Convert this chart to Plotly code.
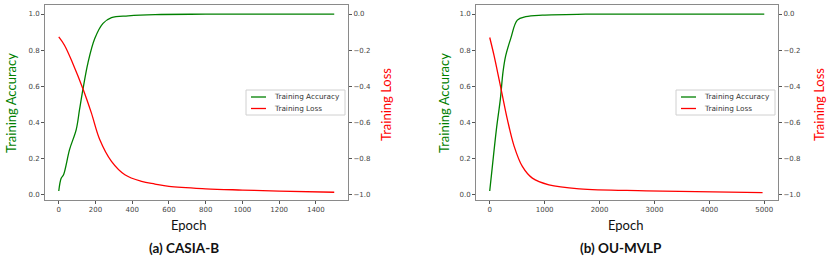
import plotly.graph_objects as go

# ---------------- data ----------------
casia_acc_epoch = [0, 13, 26, 59, 95, 113, 132, 159, 196, 241, 287, 378, 524, 800, 1100, 1500]
casia_acc = [0.02, 0.09, 0.11, 0.25, 0.36, 0.47, 0.585, 0.73, 0.864, 0.948, 0.98, 0.99, 0.997, 0.999, 1.0, 1.0]
casia_loss_epoch = [0, 31, 77, 132, 177, 223, 287, 360, 451, 524, 600, 800, 1000, 1200, 1500]
casia_loss = [-0.127, -0.173, -0.275, -0.415, -0.546, -0.695, -0.816, -0.89, -0.927, -0.942,
              -0.955, -0.968, -0.975, -0.981, -0.987]

ou_acc_epoch = [0, 48, 121, 194, 242, 291, 382, 503, 655, 958, 1745, 3000, 5000]
ou_acc = [0.02, 0.156, 0.36, 0.53, 0.68, 0.77, 0.864, 0.966, 0.985, 0.994, 0.999, 1.0, 1.0]
ou_loss_epoch = [0, 78, 169, 230, 321, 442, 594, 776, 1078, 1636, 2849, 4969]
ou_loss = [-0.13, -0.229, -0.36, -0.45, -0.583, -0.73, -0.844, -0.909, -0.946, -0.968, -0.979, -0.989]

acc_ticks = [0.0, 0.2, 0.4, 0.6, 0.8, 1.0]
loss_ticks = [-1.0, -0.8, -0.6, -0.4, -0.2, 0.0]
casia_xticks = [0, 200, 400, 600, 800, 1000, 1200, 1400]
ou_xticks = [0, 1000, 2000, 3000, 4000, 5000]
captions = ["(a) CASIA-B", "(b) OU-MVLP"]
series_names = ["Training Accuracy", "Training Loss"]

GREEN = "#008000"
RED = "#ff0000"
W, H = 830, 259

fig = go.Figure()
fig.add_trace(go.Scatter(x=casia_acc_epoch, y=casia_acc, mode="lines", name=series_names[0],
                         line=dict(color=GREEN, width=1.3, shape="spline"), xaxis="x", yaxis="y"))
fig.add_trace(go.Scatter(x=casia_loss_epoch, y=casia_loss, mode="lines", name=series_names[1],
                         line=dict(color=RED, width=1.3, shape="spline"), xaxis="x", yaxis="y2"))
fig.add_trace(go.Scatter(x=ou_acc_epoch, y=ou_acc, mode="lines", name=series_names[0],
                         line=dict(color=GREEN, width=1.3, shape="spline"), xaxis="x2", yaxis="y3"))
fig.add_trace(go.Scatter(x=ou_loss_epoch, y=ou_loss, mode="lines", name=series_names[1],
                         line=dict(color=RED, width=1.3, shape="spline"), xaxis="x2", yaxis="y4"))

ydom = [1 - 200 / H, 1 - 5 / H]
tickfont = dict(family="DejaVu Sans", size=7, color="#444")
axcommon = dict(showgrid=False, zeroline=False, showline=True, linecolor="#8a8a8a", linewidth=1,
                ticks="outside", ticklen=3, tickcolor="#555", tickfont=tickfont)

fig.update_layout(
    width=W, height=H, margin=dict(l=0, r=0, t=0, b=0),
    paper_bgcolor="white", plot_bgcolor="white", showlegend=False,
    xaxis=dict(domain=[45 / W, 348 / W], range=[-75, 1575], tickvals=casia_xticks, anchor="y",
               mirror=True, **axcommon),
    yaxis=dict(domain=ydom, range=[-0.03, 1.05], tickvals=acc_ticks, tickformat=".1f", anchor="x", **axcommon),
    yaxis2=dict(domain=ydom, range=[-1.03, 0.05], tickvals=loss_ticks, tickformat=".1f", anchor="x",
                overlaying="y", side="right", **axcommon),
    xaxis2=dict(domain=[476 / W, 778 / W], range=[-250, 5250], tickvals=ou_xticks, anchor="y3",
                mirror=True, **axcommon),
    yaxis3=dict(domain=ydom, range=[-0.03, 1.05], tickvals=acc_ticks, tickformat=".1f", anchor="x2", **axcommon),
    yaxis4=dict(domain=ydom, range=[-1.03, 0.05], tickvals=loss_ticks, tickformat=".1f", anchor="x2",
                overlaying="y3", side="right", **axcommon),
)

title_font = "Lato"
anns = []
shapes = []
# legend box positions (left, top) in pixels for each panel
legend_boxes = [(246, 90), (676, 90)]
for (cx, acx, lcx, cap), (lx, ly) in zip([(188, 11, 386, captions[0]), (625, 444, 819, captions[1])],
                                          legend_boxes):
    anns.append(dict(text="Epoch", x=cx / W, y=1 - 225 / H, xref="paper", yref="paper", showarrow=False,
                     xanchor="center", yanchor="middle", font=dict(family=title_font, size=13, color="#111")))
    anns.append(dict(text="<b>" + cap + "</b>", x=(cx - 4) / W, y=1 - 248 / H, xref="paper", yref="paper",
                     showarrow=False, xanchor="center", yanchor="middle",
                     font=dict(family=title_font, size=13.5, color="#111")))
    anns.append(dict(text=series_names[0], x=acx / W, y=1 - 103 / H, xref="paper", yref="paper",
                     showarrow=False, textangle=-90, xanchor="center", yanchor="middle",
                     font=dict(family=title_font, size=13, color=GREEN)))
    anns.append(dict(text=series_names[1], x=lcx / W, y=1 - 105 / H, xref="paper", yref="paper",
                     showarrow=False, textangle=-90, xanchor="center", yanchor="middle",
                     font=dict(family=title_font, size=13, color=RED)))
    # hand-drawn legend (compact, matplotlib-like)
    bw, bh = 99, 25
    shapes.append(dict(type="rect", xref="paper", yref="paper", x0=lx / W, x1=(lx + bw) / W,
                       y0=1 - (ly + bh) / H, y1=1 - ly / H, line=dict(color="#d0d0d0", width=1),
                       fillcolor="white", layer="above"))
    for i, (nm, col) in enumerate(zip(series_names, [GREEN, RED])):
        yy = ly + 7 + i * 11.5
        shapes.append(dict(type="line", xref="paper", yref="paper", x0=(lx + 5) / W, x1=(lx + 20) / W,
                           y0=1 - yy / H, y1=1 - yy / H, line=dict(color=col, width=1.3), layer="above"))
        anns.append(dict(text=nm, x=(lx + 26) / W, y=1 - yy / H, xref="paper", yref="paper", showarrow=False,
                         xanchor="left", yanchor="middle",
                         font=dict(family="DejaVu Sans", size=7.3, color="#333")))
fig.update_layout(annotations=anns, shapes=shapes)

fig.write_html("out.html", config={"displayModeBar": False},
               post_script="document.body.style.margin='0px';")
